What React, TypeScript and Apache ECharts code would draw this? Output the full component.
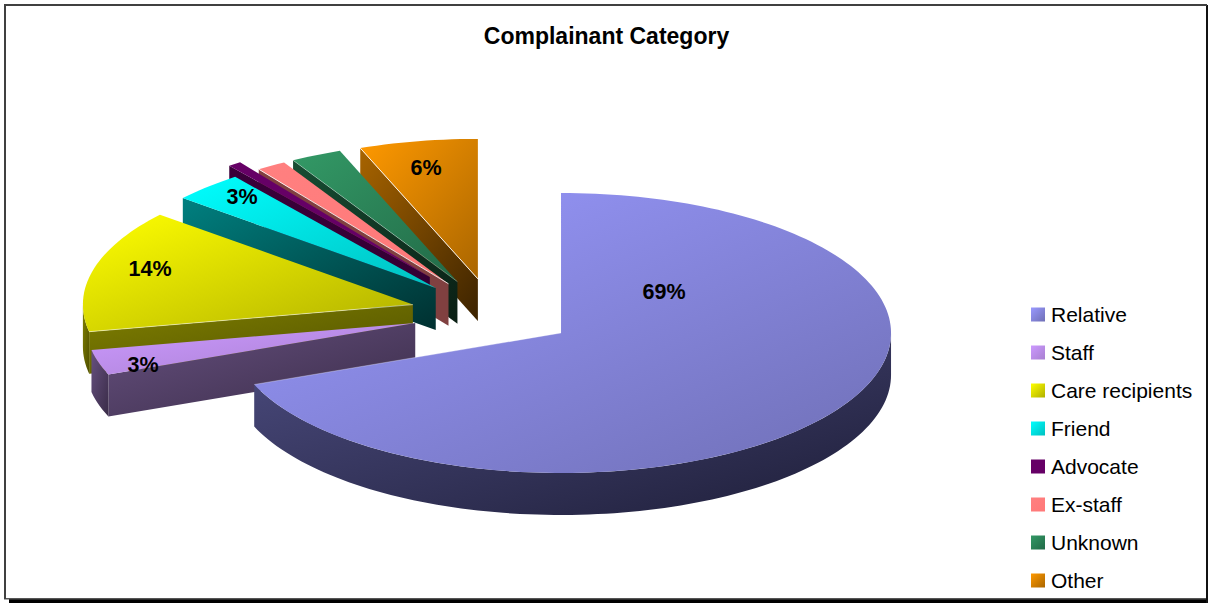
import React, { useEffect, useRef } from "react";
import * as echarts from "echarts";

const titleText = "Complainant Category";
const categories = ["Relative", "Staff", "Care recipients", "Friend", "Advocate", "Ex-staff", "Unknown", "Other"];
const shares = [69.0, 2.9, 14.2, 3.5, 0.65, 1.45, 2.5, 5.8];
const labelled = [true, true, true, true, false, false, false, true];

// Layout and styling (not data)
const W = 1208;
const H = 603;
const CX = 492.8;
const CY = 313.3;
const RX = 330;
const RY = 140;
const DEPTH = 42;
const explode = [0.25, 0.245, 0.25, 0.25, 0.3225, 0.25, 0.25, 0.25];
const drawOrder = [7, 6, 5, 4, 3, 2, 1, 0];
const topColors = [
  ["#9999FF", "#6F6FB5"], ["#CC99FF", "#A880D0"], ["#FFFF00", "#B0B000"], ["#00FFFF", "#00C0C0"],
  ["#660066", "#660066"], ["#FF8080", "#FF7878"], ["#339966", "#226A47"], ["#FF9900", "#AA6600"],
];
const wallColors = [
  ["#4C4C80", "#1E1E38"], ["#66507F", "#3A2C48"], ["#808000", "#4F4F00"], ["#008080", "#003030"],
  ["#3A003A", "#330033"], ["#804040", "#804040"], ["#174D33", "#0A1F14"], ["#A86400", "#3C2300"],
];
const edgeOpacity = [0.3, 0, 0.5, 0, 0, 0.8, 0.3, 0.9];
const labelAnchors: Record<number, [number, number]> = {
  0: [664, 292], 1: [143, 365], 2: [150, 269], 3: [242, 197], 7: [426, 168],
};
const FONT = "'Liberation Sans', Arial, sans-serif";
const TOTAL = shares.reduce((a, b) => a + b, 0);
const DEG = Math.PI / 180;

function grad(c: string[]) {
  return new echarts.graphic.LinearGradient(0, 0, 1, 1, [
    { offset: 0, color: c[0] },
    { offset: 1, color: c[1] },
  ]);
}

function startAngle(i: number) {
  let s = 0;
  for (let k = 0; k < i; k++) s += shares[k];
  return (s / TOTAL) * 360;
}

function sliceItem(i: number) {
  return (_params: any, api: any) => {
    const value = api.value(0);
    const a0 = startAngle(i);
    const a1 = a0 + (value / TOTAL) * 360;
    const mid = ((a0 + a1) / 2) * DEG;
    const ax = CX + explode[i] * RX * Math.sin(mid);
    const ay = CY - explode[i] * RY * Math.cos(mid);
    const at = (deg: number, dy = 0): number[] => [
      ax + RX * Math.sin(deg * DEG),
      ay - RY * Math.cos(deg * DEG) + dy,
    ];
    const arc = (from: number, to: number, dy = 0) => {
      const n = Math.max(2, Math.ceil(Math.abs(to - from) / 1.5));
      const pts: number[][] = [];
      for (let k = 0; k <= n; k++) pts.push(at(from + ((to - from) * k) / n, dy));
      return pts;
    };
    const children: any[] = [];
    const wall = grad(wallColors[i]);
    const face = (deg: number) =>
      children.push({
        type: "polygon",
        shape: { points: [[ax, ay], at(deg), at(deg, DEPTH), [ax, ay + DEPTH]] },
        style: { fill: grad(wallColors[i]) },
      });
    if (Math.sin(a0 * DEG) < -1e-6) face(a0);
    if (Math.sin(a1 * DEG) > 1e-6) face(a1);
    const w0 = Math.max(a0, 90);
    const w1 = Math.min(a1, 270);
    if (w1 > w0) {
      children.push({
        type: "polygon",
        shape: { points: [...arc(w0, w1), ...arc(w1, w0, DEPTH)] },
        style: { fill: wall },
      });
    }
    children.push({
      type: "polygon",
      shape: { points: [[ax, ay], ...arc(a0, a1)] },
      style: { fill: grad(topColors[i]) },
    });
    if (edgeOpacity[i] > 0) {
      const rim = at(i === 0 ? a1 : a0);
      children.push({
        type: "line",
        shape: { x1: ax, y1: ay, x2: rim[0], y2: rim[1] },
        style: { stroke: "#fff", lineWidth: 1, opacity: edgeOpacity[i] },
      });
    }
    return { type: "group", children };
  };
}

function labelItem(_params: any, api: any) {
  const i = api.value(0);
  const pos = labelAnchors[i];
  return {
    type: "text",
    x: pos[0],
    y: pos[1],
    style: {
      text: `${Math.round((api.value(1) / TOTAL) * 100)}%`,
      fill: "#000",
      font: `bold 21.5px ${FONT}`,
      align: "center",
      verticalAlign: "middle",
    },
  };
}

export default function App() {
  const ref = useRef<HTMLDivElement>(null);
  useEffect(() => {
    if (!ref.current) return;
    const chart = echarts.init(ref.current, undefined, { renderer: "svg" });
    chart.setOption({
      animation: false,
      backgroundColor: "#fff",
      title: {
        text: titleText,
        left: 606.5,
        top: 24,
        textAlign: "center",
        padding: 0,
        textStyle: { fontFamily: FONT, fontSize: 23, fontWeight: "bold", color: "#000" },
      },
      legend: {
        orient: "vertical",
        left: 1031,
        top: 304,
        padding: 0,
        itemWidth: 14,
        itemHeight: 14,
        itemGap: 17,
        selectedMode: false,
        icon: "rect",
        textStyle: { fontFamily: FONT, fontSize: 21, lineHeight: 21, color: "#000", padding: [0, 0, 0, 1] },
        data: categories.map((name, i) => ({ name, itemStyle: { color: grad(topColors[i]) } })),
      },
      graphic: [
        { type: "rect", z: -1, shape: { x: 9, y: 599, width: W - 9, height: 4 }, style: { fill: "#000" } },
        { type: "rect", z: -1, shape: { x: 1206, y: 5, width: 2, height: 598 }, style: { fill: "#111" } },
        { type: "rect", z: -1, shape: { x: 4, y: 598, width: 1202, height: 1.6 }, style: { fill: "#555" } },
        { type: "rect", z: -1, shape: { x: 4, y: 4, width: 1203, height: 2 }, style: { fill: "#404040" } },
        { type: "rect", z: -1, shape: { x: 4, y: 4, width: 2, height: 595 }, style: { fill: "#404040" } },
      ],
      series: [
        ...drawOrder.map((i) => ({
          type: "custom",
          name: categories[i],
          coordinateSystem: "none",
          silent: true,
          data: [[shares[i]]],
          renderItem: sliceItem(i),
        })),
        {
          type: "custom",
          name: "labels",
          coordinateSystem: "none",
          silent: true,
          data: shares.map((v, i) => [i, v]).filter((_, i) => labelled[i]),
          renderItem: labelItem,
        },
      ],
    });
    return () => chart.dispose();
  }, []);
  return <div ref={ref} style={{ position: "absolute", left: 0, top: 0, width: W, height: H }} />;
}
